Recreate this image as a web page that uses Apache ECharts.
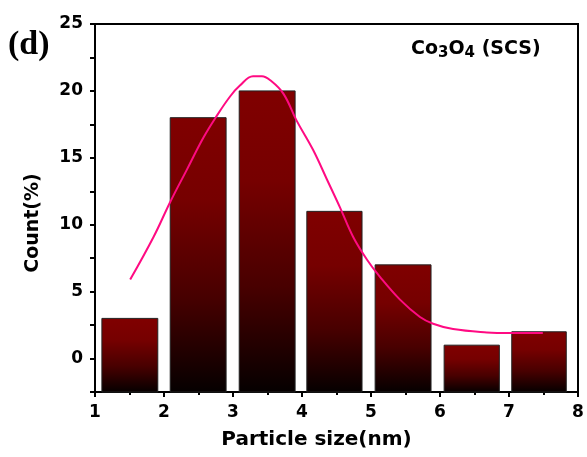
<!DOCTYPE html>
<html>
<head>
<meta charset="utf-8">
<script src="https://cdn.jsdelivr.net/npm/echarts@6/dist/echarts.min.js"></script>
<style>html,body{margin:0;padding:0;background:#fff}#c{width:587px;height:457px}</style>
</head>
<body>
<div id="c"></div>
<script>
// Histogram bins (particle size, nm) and counts (%)
const binLeft  = [1.10, 2.09, 3.09, 4.07, 5.06, 6.06, 7.04];
const binRight = [1.91, 2.90, 3.90, 4.87, 5.87, 6.86, 7.83];
const counts   = [3, 18, 20, 11, 7, 1, 2];

// Fitted distribution curve
const fitX = [1.51,1.85,2.09,2.33,2.57,2.76,2.96,3.10,3.29,3.42,3.54,3.73,3.92,4.16,4.36,4.55,4.74,4.94,5.13,5.42,5.71,5.90,6.19,6.68,7.00,7.49];
const fitY = [5.9,9.1,11.7,14.1,16.5,18.1,19.6,20.4,21.1,21.1,20.8,19.8,17.8,15.6,13.4,11.3,9.1,7.4,6.1,4.4,3.1,2.6,2.2,1.95,1.9,1.9];

const xTicks = [1,2,3,4,5,6,7,8];
const yLabels = [0,5,10,15,20,25];
const yMin = -2.5, yMax = 25;

const barData = counts.map((v,i)=>[binLeft[i], binRight[i], v]);
const fitData = fitX.map((x,i)=>[x, fitY[i]]);

const chart = echarts.init(document.getElementById('c'), null, {renderer:'canvas'});
const SANS = 'DejaVu Sans, Arial, sans-serif';
const labelFont = {fontFamily:SANS, fontWeight:'bold', fontSize:17, color:'#000'};

chart.setOption({
  animation:false,
  backgroundColor:'#fff',
  grid:{left:95, right:9, top:24, bottom:65, show:true, borderColor:'#000', borderWidth:2, backgroundColor:'transparent'},
  title:[
    {text:'(d)', left:3, top:23, textStyle:{fontFamily:'Liberation Serif, Times New Roman, serif', fontWeight:'bold', fontSize:34, color:'#000'}},
    {text:'Co{s|3}O{s|4} (SCS)', left:406, top:32,
     textStyle:{fontFamily:SANS, fontWeight:'bold', fontSize:19, color:'#000',
       rich:{s:{fontFamily:SANS, fontWeight:'bold', fontSize:15, color:'#000', verticalAlign:'bottom', padding:[9,0,0,0]}}}}
  ],
  xAxis:{
    type:'value', min:xTicks[0], max:xTicks[xTicks.length-1], interval:1,
    name:'Particle size(nm)', nameLocation:'middle', nameGap:38,
    nameTextStyle:{fontFamily:SANS, fontWeight:'bold', fontSize:20, color:'#000', padding:[0,40,0,0]},
    axisLine:{onZero:false, lineStyle:{color:'#000', width:2}},
    axisTick:{show:true, length:5, lineStyle:{color:'#000', width:2}},
    minorTick:{show:true, splitNumber:2, length:3, lineStyle:{color:'#000', width:2}},
    axisLabel:Object.assign({margin:12}, labelFont),
    splitLine:{show:false}
  },
  yAxis:{
    type:'value', min:yMin, max:yMax, interval:2.5,
    name:'Count(%)', nameLocation:'middle', nameGap:52, nameRotate:90,
    nameTextStyle:{fontFamily:SANS, fontWeight:'bold', fontSize:19, color:'#000', padding:[0,30,0,0]},
    axisLine:{onZero:false, lineStyle:{color:'#000', width:2}},
    axisTick:{show:true, length:5, lineStyle:{color:'#000', width:2}},
    axisLabel:Object.assign({margin:12, formatter:function(v){return yLabels.indexOf(v)>=0 ? String(v) : '';}}, labelFont),
    splitLine:{show:false}
  },
  series:[
    {
      type:'custom',
      data:barData,
      encode:{x:[0,1], y:2},
      renderItem:function(params, api){
        const x0 = api.value(0), x1 = api.value(1), v = api.value(2);
        const p0 = api.coord([x0, v]);
        const p1 = api.coord([x1, yMin]);
        return {
          type:'rect',
          shape:{x:p0[0], y:p0[1], width:p1[0]-p0[0], height:p1[1]-p0[1]},
          style:{
            fill:new echarts.graphic.LinearGradient(0,0,0,1,[
              {offset:0, color:'#800000'},
              {offset:0.3, color:'#760000'},
              {offset:0.65, color:'#480000'},
              {offset:1, color:'#050000'}
            ]),
            stroke:'#222', lineWidth:1
          }
        };
      },
      z:2
    },
    {
      type:'line',
      data:fitData,
      smooth:0.4,
      showSymbol:false,
      lineStyle:{color:'#ff0a82', width:2},
      z:3
    }
  ]
});
</script>
</body>
</html>
